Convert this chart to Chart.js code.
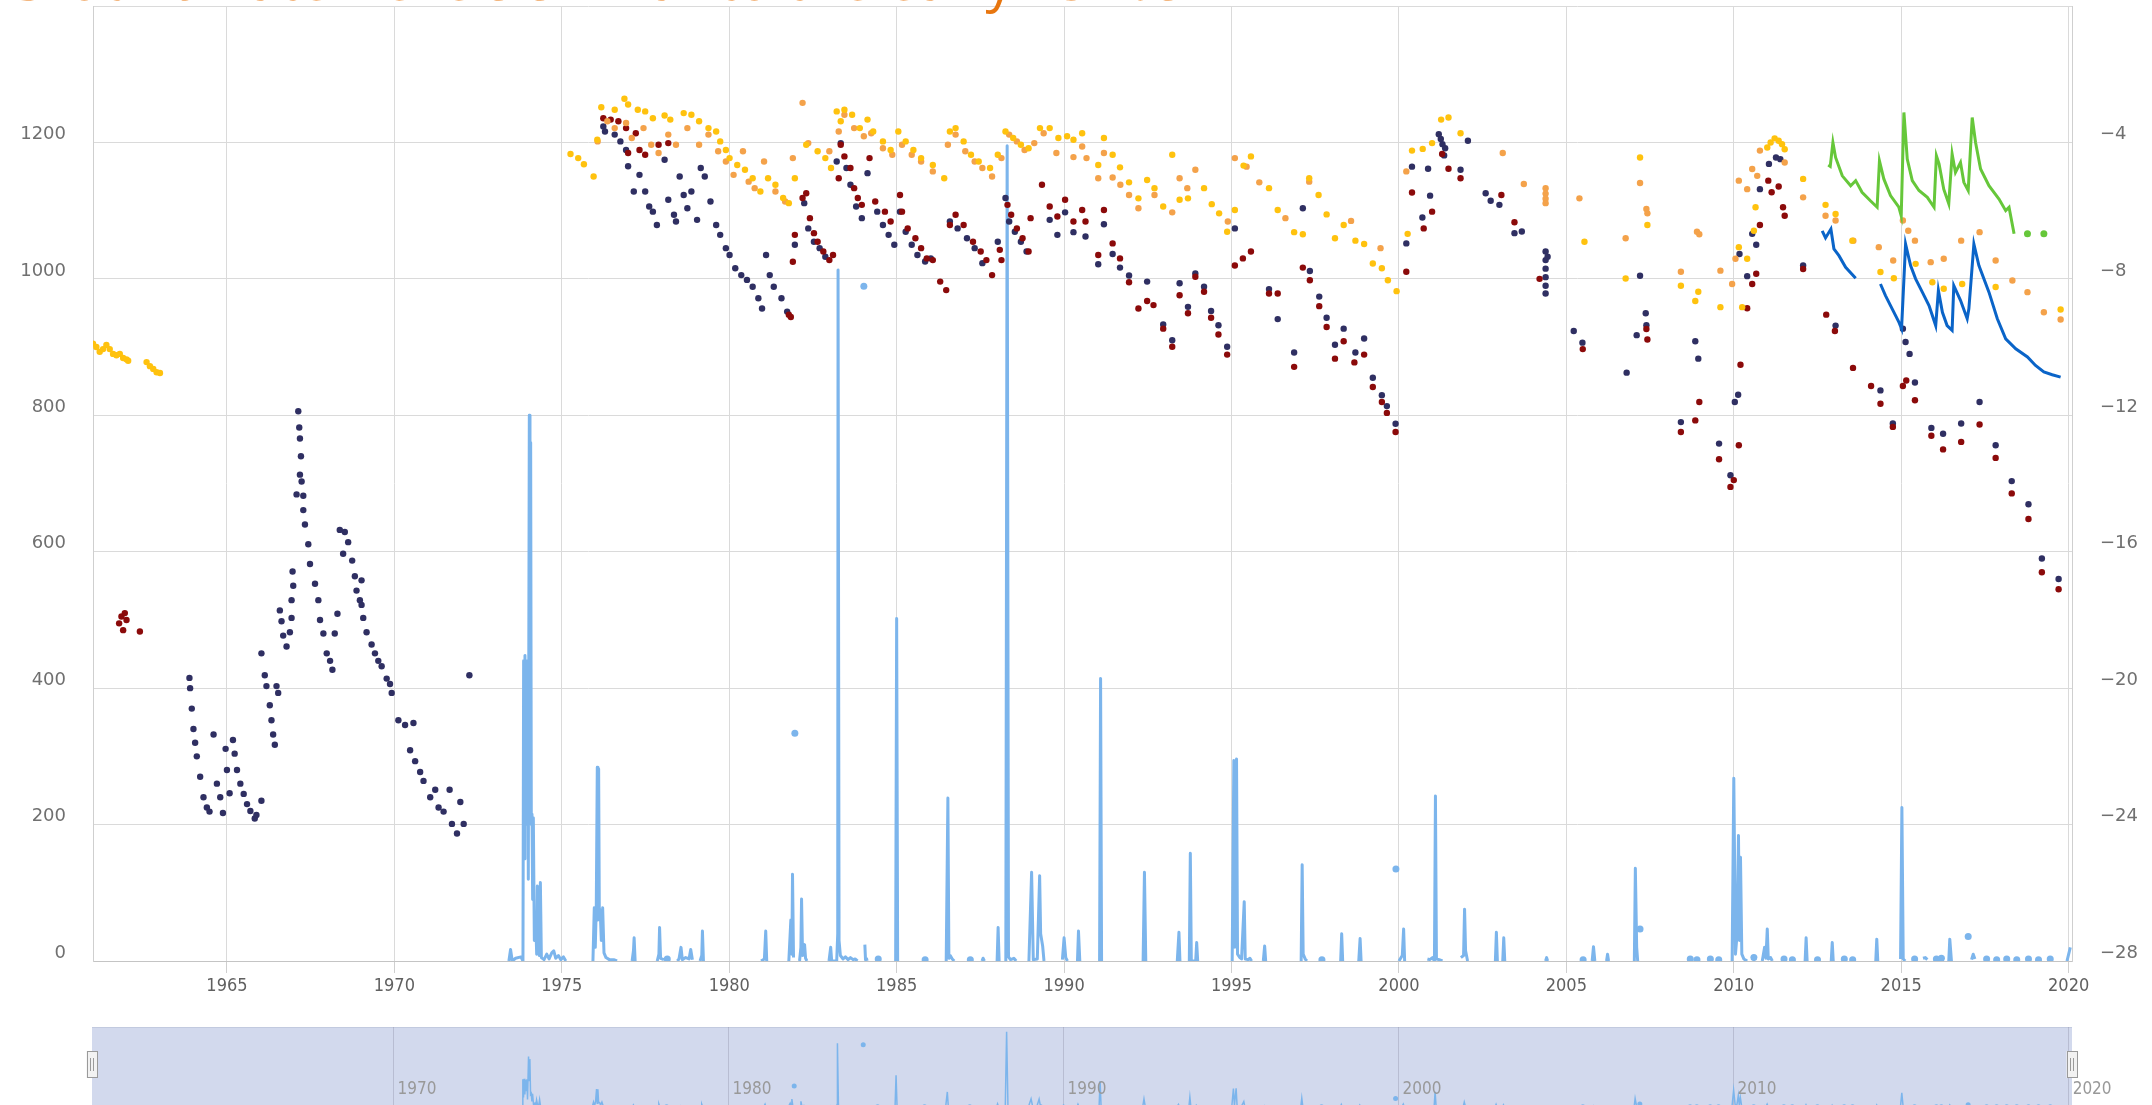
<!DOCTYPE html>
<html><head><meta charset="utf-8">
<script src="https://cdn.jsdelivr.net/npm/chart.js@4.4.1/dist/chart.umd.min.js"></script>
<style>
html,body{margin:0;padding:0;background:#fff;}
body{width:2152px;height:1105px;overflow:hidden;position:relative;}
#main{position:absolute;left:0;top:0;}
#nav{position:absolute;left:0;top:1020px;}
#title{position:absolute;left:4px;top:-50px;font-family:'Open Sans',sans-serif;font-size:56px;line-height:56px;color:#E8760F;white-space:nowrap;z-index:2;}
</style></head><body>
<canvas id="main" width="2152" height="1020"></canvas>
<canvas id="nav" width="2152" height="100"></canvas>
<div id="title">Groundwater levels similar to the early 1970s</div>
<script>
// ---------------- DATA ----------------
const xTickYears = [1965,1970,1975,1980,1985,1990,1995,2000,2005,2010,2015,2020];
const navTickYears = [1970,1980,1990,2000,2010,2020];
const leftTicks = [0,200,400,600,800,1000,1200,1400];
const rightTicks = [-28,-24,-20,-16,-12,-8,-4,0];

const yellowPoints = [
[1961.0,-9.90],[1961.1,-10.0],[1961.2,-10.14],[1961.3,-10.06],[1961.4,-9.94],[1961.5,-10.06],[1961.6,-10.2],[1961.7,-10.24],[1961.8,-10.2],[1961.9,-10.32],[1962.0,-10.36],[1962.05,-10.4],[1962.6,-10.44],[1962.7,-10.56],[1962.8,-10.64],[1962.9,-10.74],[1963.0,-10.76],
[1975.26,-4.34],[1975.49,-4.46],[1975.66,-4.64],[1975.95,-5.0],[1976.06,-3.92],[1976.18,-2.97],[1976.58,-3.04],[1976.87,-2.72],[1976.98,-2.89],[1977.27,-3.04],[1977.49,-3.09],[1977.72,-3.29],[1978.07,-3.21],[1978.24,-3.33],[1978.64,-3.14],[1978.87,-3.19],[1979.1,-3.38],[1979.38,-3.58],[1979.61,-3.68],[1979.73,-3.97],[1979.9,-4.22],[1980.01,-4.46],[1980.24,-4.66],[1980.47,-4.8],[1980.7,-5.05],[1980.93,-5.44],[1981.16,-5.05],[1981.38,-5.24],[1981.61,-5.63],[1981.78,-5.78],[1981.96,-5.05],[1982.3,-4.07],[1982.64,-4.26],[1982.87,-4.46],[1983.04,-4.75],[1983.21,-3.09],[1983.33,-3.38],[1983.44,-3.04],[1983.67,-3.19],[1983.9,-3.58],[1984.13,-3.33],[1984.3,-3.68],[1984.59,-3.97],[1984.82,-4.22],[1985.05,-3.68],[1985.27,-3.97],[1985.5,-4.22],[1985.73,-4.46],[1986.08,-4.66],[1986.42,-5.05],[1986.59,-3.68],[1986.76,-3.58],[1987.0,-3.97],[1987.22,-4.36],[1987.45,-4.56],[1987.79,-4.75],[1988.02,-4.36],[1988.25,-3.68],[1988.48,-3.87],[1988.71,-4.07],[1988.94,-4.17],[1989.28,-3.58],
[1989.57,-3.58],[1989.83,-3.87],[1990.09,-3.82],[1990.28,-3.92],[1990.54,-3.73],[1991.02,-4.66],[1991.19,-3.87],[1991.45,-4.36],[1991.67,-4.73],[1991.94,-5.17],[1992.22,-5.64],[1992.48,-5.1],[1992.7,-5.34],[1992.96,-5.88],[1993.23,-4.36],[1993.45,-5.68],[1993.7,-5.64],[1994.18,-5.34],[1994.41,-5.81],[1994.63,-6.08],[1994.87,-6.62],[1995.1,-5.98],[1995.36,-4.68],[1995.58,-4.41],[1996.12,-5.34],[1996.38,-5.98],[1996.87,-6.63],[1997.13,-6.69],[1997.32,-5.05],[1997.6,-5.54],[1997.84,-6.11],[1998.09,-6.81],[1998.35,-6.42],[1998.7,-6.88],[1998.96,-6.98],[1999.22,-7.55],[1999.49,-7.69],[1999.67,-8.04],[1999.93,-8.36],[2000.26,-6.68],[2000.39,-4.24],[2000.71,-4.19],[2000.99,-4.02],[2001.26,-3.33],[2001.48,-3.27],[2001.84,-3.73],[2005.54,-6.91],[2006.77,-7.99],[2007.2,-4.44],[2007.42,-6.42],[2008.42,-8.2],[2008.85,-8.65],[2008.94,-8.38],
[2009.6,-8.83],[2010.15,-7.07],[2010.25,-8.83],[2010.4,-7.41],[2010.6,-6.59],[2010.65,-5.9],[2011.0,-4.15],[2011.1,-4.0],[2011.22,-3.88],[2011.34,-3.95],[2011.44,-4.05],[2011.52,-4.2],[2012.07,-5.07],[2012.74,-5.83],[2013.04,-6.1],[2013.54,-6.88],[2014.38,-7.8],[2014.78,-7.98],[2015.43,-7.56],[2015.93,-8.1],[2016.27,-8.29],[2016.82,-8.15],[2017.82,-8.24],[2019.76,-8.9]
];

const orangePoints = [
[1976.07,-3.97],[1976.36,-3.38],[1976.58,-3.58],[1976.92,-3.43],[1977.09,-3.87],[1977.44,-3.58],[1977.67,-4.07],[1977.89,-4.31],[1978.18,-3.77],[1978.41,-4.07],[1978.75,-3.58],[1979.1,-4.07],[1979.38,-3.77],[1979.67,-4.26],[1979.9,-4.56],[1980.13,-4.95],[1980.41,-4.26],[1980.58,-5.15],[1980.76,-5.34],[1981.04,-4.56],[1981.38,-5.44],[1981.67,-5.73],[1981.9,-4.46],[1982.19,-2.84],[1982.36,-4.02],[1982.99,-4.26],[1983.27,-3.68],[1983.44,-3.19],[1983.73,-3.58],[1984.02,-3.82],[1984.24,-3.73],[1984.59,-4.17],[1984.87,-4.36],[1985.16,-4.07],[1985.45,-4.36],[1985.73,-4.56],[1986.08,-4.85],[1986.53,-4.07],[1986.76,-3.77],[1987.05,-4.26],[1987.33,-4.56],[1987.56,-4.75],[1987.85,-5.0],[1988.13,-4.46],[1988.36,-3.77],[1988.59,-3.97],[1988.82,-4.22],[1989.11,-4.02],[1989.39,-3.73],
[1989.77,-4.31],[1990.28,-4.43],[1990.54,-4.12],[1990.67,-4.46],[1991.02,-5.05],[1991.19,-4.31],[1991.45,-5.03],[1991.68,-5.24],[1991.94,-5.54],[1992.22,-5.93],[1992.7,-5.54],[1993.23,-6.05],[1993.45,-5.05],[1993.68,-5.34],[1993.92,-4.8],[1994.89,-6.32],[1995.1,-4.46],[1995.45,-4.71],[1995.83,-5.17],[1996.61,-6.22],[1997.32,-5.15],[1998.57,-6.3],[1999.45,-7.1],[2000.22,-4.85],[2003.1,-4.31],[2003.73,-5.22],[2004.38,-5.34],[2004.38,-5.5],[2004.38,-5.65],[2004.38,-5.78],[2005.39,-5.64],[2006.77,-6.81],[2007.2,-5.19],[2007.39,-5.95],[2007.42,-6.08],[2008.42,-7.79],[2008.9,-6.62],[2008.97,-6.69],
[2009.6,-7.76],[2009.95,-8.15],[2010.05,-7.41],[2010.15,-5.12],[2010.4,-5.37],[2010.55,-4.78],[2010.7,-4.98],[2010.78,-4.24],[2011.52,-4.59],[2012.07,-5.61],[2012.74,-6.15],[2013.04,-6.29],[2013.57,-6.88],[2014.33,-7.07],[2014.76,-7.46],[2015.05,-6.29],[2015.21,-6.59],[2015.41,-6.88],[2015.88,-7.51],[2016.27,-7.41],[2016.79,-6.88],[2017.34,-6.63],[2017.82,-7.46],[2018.32,-8.05],[2018.77,-8.39],[2019.26,-8.98],[2019.76,-9.19]
];

const navyPoints = [
[1963.88,-19.7],[1963.9,-20.0],[1963.95,-20.6],[1964.0,-21.2],[1964.05,-21.6],[1964.1,-22.0],[1964.2,-22.6],[1964.3,-23.2],[1964.4,-23.5],[1964.48,-23.62],
[1964.6,-21.36],[1964.7,-22.8],[1964.8,-23.2],[1964.88,-23.66],[1964.96,-21.78],[1965.0,-22.4],[1965.08,-23.08],[1965.18,-21.52],[1965.23,-21.92],[1965.3,-22.4],[1965.4,-22.8],[1965.5,-23.1],[1965.6,-23.4],[1965.7,-23.6],[1965.83,-23.82],[1965.88,-23.72],[1966.03,-23.3],
[1966.03,-18.98],[1966.13,-19.62],[1966.18,-19.94],[1966.28,-20.5],[1966.33,-20.94],[1966.38,-21.36],[1966.43,-21.66],[1966.48,-19.94],[1966.53,-20.14],
[1966.58,-17.72],[1966.63,-18.04],[1966.68,-18.46],[1966.78,-18.78],[1966.88,-18.36],[1966.93,-17.94],[1966.93,-17.42],[1966.98,-17.0],[1966.96,-16.58],
[1967.13,-11.88],[1967.16,-12.36],[1967.18,-12.68],[1967.21,-13.2],[1967.18,-13.74],[1967.23,-13.94],[1967.08,-14.32],[1967.28,-14.36],[1967.28,-14.78],[1967.33,-15.2],[1967.43,-15.78],[1967.48,-16.36],[1967.63,-16.94],[1967.73,-17.42],[1967.78,-18.0],[1967.88,-18.4],[1967.98,-18.98],[1968.08,-19.2],[1968.15,-19.46],[1968.22,-18.4],[1968.3,-17.82],
[1968.37,-15.36],[1968.52,-15.42],[1968.62,-15.72],[1968.47,-16.06],[1968.74,-16.26],[1968.82,-16.72],[1969.02,-16.84],[1968.87,-17.14],[1968.97,-17.42],[1969.02,-17.56],[1969.07,-17.94],[1969.17,-18.36],[1969.32,-18.72],[1969.42,-18.98],[1969.52,-19.2],[1969.62,-19.36],[1969.77,-19.72],[1969.87,-19.88],[1969.92,-20.14],
[1970.12,-20.94],[1970.32,-21.08],[1970.57,-21.02],[1970.47,-21.82],[1970.62,-22.14],[1970.77,-22.46],[1970.87,-22.72],[1971.07,-23.2],[1971.22,-22.98],[1971.32,-23.5],[1971.47,-23.62],[1971.65,-22.98],[1971.97,-23.34],[1971.72,-23.98],[1972.07,-23.98],[1971.87,-24.26],[1972.24,-19.62],
[1976.24,-3.53],[1976.29,-3.68],[1976.58,-3.77],[1976.75,-3.97],[1976.92,-4.22],[1976.98,-4.7],[1977.15,-5.44],[1977.32,-4.95],[1977.49,-5.44],[1977.61,-5.88],[1977.72,-6.03],[1977.84,-6.42],[1978.07,-4.51],[1978.18,-5.68],[1978.35,-6.12],[1978.41,-6.32],[1978.52,-5.0],[1978.64,-5.54],[1978.75,-5.93],[1978.87,-5.44],[1979.04,-6.27],[1979.15,-4.75],[1979.27,-5.0],[1979.44,-5.73],[1979.61,-6.42],[1979.73,-6.71],[1979.9,-7.1],[1980.01,-7.3],[1980.18,-7.69],[1980.36,-7.89],[1980.53,-8.03],[1980.7,-8.23],[1980.87,-8.57],[1980.98,-8.87],[1981.1,-7.3],[1981.21,-7.89],[1981.33,-8.23],[1981.56,-8.57],[1981.73,-8.96],[1981.96,-7.0],[1982.24,-5.78],[1982.36,-6.52],[1982.53,-6.91],[1982.7,-7.1],[1982.87,-7.35],[1983.21,-4.56],[1983.33,-4.02],[1983.5,-4.75],[1983.62,-5.24],[1983.79,-5.88],[1983.96,-6.22],[1984.13,-4.9],[1984.42,-6.03],[1984.59,-6.42],[1984.76,-6.71],[1984.93,-7.0],[1985.1,-6.03],[1985.27,-6.62],[1985.45,-7.0],[1985.62,-7.3],[1985.85,-7.49],[1986.02,-7.4],[1986.59,-6.32],[1986.82,-6.52],[1987.1,-6.81],[1987.33,-7.1],[1987.56,-7.54],[1988.02,-6.91],[1988.25,-5.63],[1988.36,-6.32],[1988.53,-6.62],[1988.71,-6.91],[1988.88,-7.2],
[1989.57,-6.27],[1989.8,-6.71],[1990.03,-6.05],[1990.28,-6.63],[1990.64,-6.76],[1991.02,-7.57],[1991.19,-6.4],[1991.45,-7.27],[1991.67,-7.67],[1991.94,-7.9],[1992.48,-8.08],[1992.96,-9.34],[1993.23,-9.8],[1993.45,-8.13],[1993.7,-8.82],[1993.92,-7.84],[1994.18,-8.23],[1994.39,-8.94],[1994.61,-9.36],[1994.87,-9.99],[1995.1,-6.52],[1996.12,-8.3],[1996.38,-9.18],[1996.87,-10.16],[1997.13,-5.93],[1997.34,-7.77],[1997.62,-8.52],[1997.84,-9.14],[1998.09,-9.93],[1998.35,-9.46],[1998.7,-10.16],[1998.96,-9.75],[1999.22,-10.9],[1999.49,-11.41],[1999.64,-11.73],[1999.9,-12.25],[2000.22,-6.96],[2000.39,-4.71],[2000.7,-6.2],[2000.87,-4.77],[2000.93,-5.56],[2001.19,-3.76],[2001.25,-3.9],[2001.3,-4.05],[2001.38,-4.17],[2001.35,-4.38],[2001.84,-4.8],[2002.06,-3.95],[2002.59,-5.49],[2002.74,-5.71],[2003.0,-5.83],[2003.45,-6.66],[2003.67,-6.61],[2004.38,-7.2],[2004.38,-7.45],[2004.38,-7.7],[2004.38,-7.95],[2004.38,-8.2],[2004.38,-8.43],[2004.44,-7.35],[2005.22,-9.53],[2005.48,-9.87],[2006.8,-10.75],[2007.1,-9.65],[2007.2,-7.91],[2007.37,-9.01],[2007.39,-9.36],[2008.42,-12.2],[2008.85,-9.83],[2008.94,-10.34],[2009.56,-12.83],
[2009.9,-13.76],[2010.03,-11.61],[2010.13,-11.4],[2010.17,-7.27],[2010.4,-7.92],[2010.55,-6.68],[2010.67,-7.0],[2010.78,-5.37],[2011.05,-4.63],[2011.26,-4.44],[2011.39,-4.49],[2012.07,-7.61],[2013.04,-9.37],[2014.38,-11.27],[2014.75,-12.24],[2015.05,-9.46],[2015.13,-9.85],[2015.25,-10.2],[2015.41,-11.04],[2015.9,-12.37],[2016.25,-12.54],[2016.79,-12.24],[2017.34,-11.61],[2017.82,-12.88],[2018.3,-13.93],[2018.8,-14.61],[2019.2,-16.2],[2019.7,-16.8]
];

const darkRedPoints = [
[1961.78,-18.1],[1961.85,-17.9],[1961.95,-17.8],[1962.0,-18.0],[1961.9,-18.3],[1962.4,-18.34],
[1976.24,-3.29],[1976.46,-3.33],[1976.69,-3.38],[1976.92,-3.58],[1976.98,-4.31],[1977.21,-3.73],[1977.32,-4.22],[1977.49,-4.36],[1977.89,-4.07],[1978.18,-4.02],[1981.78,-9.05],[1981.84,-9.12],[1981.9,-7.5],[1981.96,-6.71],[1982.19,-5.63],[1982.3,-5.49],[1982.41,-6.22],[1982.53,-6.66],[1982.64,-6.91],[1982.81,-7.2],[1982.99,-7.45],[1983.1,-7.3],[1983.27,-5.05],[1983.33,-4.07],[1983.44,-4.41],[1983.62,-4.75],[1983.73,-5.34],[1983.84,-5.63],[1983.96,-5.83],[1984.19,-4.46],[1984.36,-5.73],[1984.65,-6.03],[1984.82,-6.32],[1985.1,-5.54],[1985.16,-6.03],[1985.33,-6.52],[1985.56,-6.81],[1985.73,-7.1],[1985.9,-7.4],[1986.08,-7.45],[1986.3,-8.08],[1986.48,-8.33],[1986.59,-6.42],[1986.76,-6.12],[1987.0,-6.42],[1987.28,-6.91],[1987.51,-7.2],[1987.68,-7.45],[1987.85,-7.89],[1988.08,-7.15],[1988.13,-7.45],[1988.31,-5.83],[1988.42,-6.12],[1988.59,-6.52],[1988.76,-6.81],[1988.94,-7.2],[1989.0,-6.22],[1989.34,-5.24],
[1989.57,-5.88],[1989.8,-6.17],[1990.03,-5.68],[1990.28,-6.32],[1990.54,-5.98],[1990.64,-6.32],[1991.02,-7.3],[1991.19,-5.98],[1991.45,-6.96],[1991.67,-7.4],[1991.94,-8.1],[1992.22,-8.87],[1992.48,-8.65],[1992.67,-8.77],[1992.96,-9.46],[1993.23,-9.99],[1993.45,-8.48],[1993.7,-9.01],[1993.92,-7.94],[1994.18,-8.38],[1994.39,-9.14],[1994.61,-9.63],[1994.87,-10.22],[1995.1,-7.61],[1995.34,-7.4],[1995.58,-7.2],[1996.12,-8.43],[1996.38,-8.43],[1996.87,-10.58],[1997.13,-7.67],[1997.34,-8.04],[1997.62,-8.8],[1997.84,-9.41],[1998.09,-10.34],[1998.35,-9.83],[1998.67,-10.45],[1998.96,-10.22],[1999.22,-11.17],[1999.49,-11.61],[1999.64,-11.93],[1999.9,-12.49],[2000.22,-7.79],[2000.39,-5.47],[2000.74,-6.52],[2000.99,-6.03],[2001.29,-4.34],[2001.48,-4.77],[2001.84,-5.05],[2003.06,-5.54],[2003.45,-6.34],[2004.2,-8.0],[2005.49,-10.06],[2007.39,-9.47],[2007.42,-9.78],[2008.42,-12.49],[2008.85,-12.15],[2008.97,-11.61],[2009.56,-13.29],
[2009.9,-14.1],[2010.0,-13.9],[2010.15,-12.88],[2010.2,-10.52],[2010.4,-8.86],[2010.55,-8.15],[2010.67,-7.85],[2010.78,-6.42],[2011.03,-5.12],[2011.13,-5.46],[2011.34,-5.29],[2011.47,-5.9],[2011.52,-6.15],[2012.07,-7.71],[2012.76,-9.05],[2013.02,-9.53],[2013.56,-10.61],[2014.1,-11.14],[2014.38,-11.66],[2014.75,-12.34],[2015.05,-11.14],[2015.15,-10.98],[2015.41,-11.56],[2015.9,-12.6],[2016.25,-13.0],[2016.79,-12.78],[2017.34,-12.27],[2017.82,-13.25],[2018.3,-14.29],[2018.8,-15.04],[2019.2,-16.6],[2019.7,-17.1]
];

const greenLine = [
[2012.82,-4.66],[2012.88,-4.7],[2012.96,-4.0],[2013.04,-4.44],[2013.24,-4.98],[2013.49,-5.27],[2013.64,-5.12],[2013.83,-5.46],[2014.08,-5.71],[2014.28,-5.9],[2014.35,-4.54],[2014.48,-5.07],[2014.68,-5.56],[2014.93,-5.9],[2015.0,-6.15],[2015.08,-3.12],[2015.18,-4.49],[2015.33,-5.12],[2015.53,-5.41],[2015.78,-5.61],[2015.98,-5.9],[2016.05,-4.39],[2016.13,-4.63],[2016.27,-5.37],[2016.42,-5.8],[2016.52,-4.34],[2016.62,-4.88],[2016.77,-4.59],[2016.87,-5.17],[2017.0,-5.41],[2017.12,-3.27],[2017.22,-4.0],[2017.37,-4.78],[2017.62,-5.27],[2017.92,-5.66],[2018.12,-6.0],[2018.22,-5.9],[2018.37,-6.68],
null,[2018.77,-6.68],null,[2019.26,-6.68]
];

const blueLine = [
[2012.64,-6.59],[2012.74,-6.8],[2012.9,-6.54],[2012.99,-7.12],[2013.14,-7.32],[2013.34,-7.66],[2013.64,-7.98],
null,
[2014.38,-8.15],[2014.53,-8.49],[2014.73,-8.88],[2014.93,-9.27],[2015.01,-9.46],[2015.13,-6.98],[2015.28,-7.61],[2015.43,-8.0],[2015.63,-8.39],[2015.83,-8.78],[2016.03,-9.37],[2016.11,-8.34],[2016.23,-8.98],[2016.37,-9.37],[2016.52,-9.51],[2016.57,-8.2],[2016.77,-8.63],[2016.97,-9.17],[2017.02,-8.88],[2017.17,-6.98],[2017.32,-7.61],[2017.62,-8.39],[2017.87,-9.17],[2018.12,-9.76],[2018.42,-10.05],[2018.77,-10.29],[2019.01,-10.54],[2019.26,-10.73],[2019.51,-10.81],[2019.76,-10.88]
];

const rainSeries = [
[1973.42,0],[1973.47,17],[1973.52,0],[1973.62,4],[1973.78,6],[1973.84,0],[1973.86,440],[1973.88,150],[1973.9,448],[1973.92,200],[1973.94,430],[1973.96,260],[1973.98,440],[1974.0,120],[1974.03,800],[1974.05,420],[1974.07,760],[1974.09,200],[1974.11,215],[1974.13,90],[1974.15,210],[1974.18,30],[1974.22,60],[1974.25,10],[1974.27,110],[1974.3,34],[1974.33,8],[1974.36,115],[1974.39,5],[1974.47,2],[1974.55,10],[1974.62,3],[1974.7,12],[1974.76,15],[1974.82,4],[1974.9,8],[1974.97,2],[1975.05,6],[1975.12,0],
null,[1975.93,0],[1975.97,78],[1976.0,20],[1976.03,80],[1976.06,284],[1976.08,60],[1976.1,282],[1976.12,78],[1976.15,70],[1976.18,30],[1976.22,78],[1976.26,12],[1976.32,5],[1976.42,2],[1976.55,2],[1976.65,0],
null,[1977.1,0],[1977.14,15],[1977.16,34],[1977.19,0],
null,[1977.85,0],[1977.9,10],[1977.92,49],[1977.95,4],[1978.05,2],
null,[1978.15,3],
null,[1978.45,0],[1978.5,3],[1978.56,20],[1978.6,2],[1978.7,5],[1978.8,3],[1978.85,17],[1978.9,2],
null,[1979.13,0],[1979.18,8],[1979.2,44],[1979.23,0],
null,[1980.95,0],[1981.05,3],[1981.09,44],[1981.12,0],
null,[1981.78,0],[1981.84,60],[1981.87,10],[1981.89,127],[1981.92,5],
null,[1981.96,334],
null,[1982.1,0],[1982.14,20],[1982.16,91],[1982.19,8],[1982.25,24],[1982.28,4],[1982.32,0],
null,[1982.98,0],[1983.03,20],[1983.06,0],[1983.21,0],[1983.24,40],[1983.25,1013],[1983.28,30],[1983.32,8],[1983.4,3],[1983.47,6],[1983.55,2],[1983.62,5],[1983.7,2],[1983.76,3],[1983.83,0],
null,[1984.02,989],
null,[1984.05,24],[1984.07,2],[1984.15,3],
null,[1984.45,3],
null,[1984.97,0],[1985.0,502],[1985.03,0],
null,[1985.85,2],
null,[1986.48,0],[1986.53,239],[1986.56,4],[1986.6,8],[1986.66,3],[1986.72,0],
null,[1987.2,2],
null,[1987.55,0],[1987.58,4],[1987.62,0],
null,[1988.0,0],[1988.03,49],[1988.06,0],
null,[1988.26,0],[1988.3,1195],[1988.34,6],[1988.4,2],[1988.5,4],[1988.57,0],
null,[1988.95,0],[1989.03,130],[1989.08,2],[1989.2,3],[1989.27,125],[1989.3,40],[1989.36,22],[1989.4,0],
null,[1989.95,2],[1990.0,34],[1990.05,5],[1990.1,0],
null,[1990.4,0],[1990.43,44],[1990.47,0],
null,[1991.06,0],[1991.09,414],[1991.12,0],
null,[1992.36,0],[1992.4,130],[1992.44,0],
null,[1993.38,0],[1993.43,42],[1993.46,0],
null,[1993.74,0],[1993.77,158],[1993.8,0],[1993.93,0],[1993.96,27],[1993.99,0],
null,[1995.02,0],[1995.07,294],[1995.1,20],[1995.15,296],[1995.18,10],[1995.25,5],[1995.3,3],[1995.38,87],[1995.41,3],[1995.5,2],[1995.55,4],[1995.6,0],
null,[1995.95,0],[1995.99,22],[1996.02,0],
null,[1997.08,0],[1997.11,141],[1997.14,10],[1997.2,3],[1997.25,0],
null,[1997.7,2],
null,[1998.26,0],[1998.29,40],[1998.32,0],
null,[1998.8,0],[1998.84,33],[1998.87,0],
null,[1999.91,135],
null,[2000.0,0],[2000.05,4],[2000.1,8],[2000.14,47],[2000.17,0],
null,[2000.85,3],[2000.92,2],[2001.0,5],[2001.06,0],[2001.09,242],[2001.12,3],[2001.2,2],[2001.3,0],
null,[2001.85,5],[2001.93,8],[2001.96,76],[2001.99,15],[2002.05,0],
null,[2002.88,0],[2002.91,42],[2002.94,0],
null,[2003.1,0],[2003.13,34],[2003.16,0],
null,[2004.38,0],[2004.41,5],[2004.44,0],
null,[2005.5,2],
null,[2005.77,0],[2005.81,21],[2005.85,0],
null,[2006.2,0],[2006.23,10],[2006.26,0],
null,[2007.03,0],[2007.06,136],[2007.1,20],[2007.13,0],
null,[2007.2,47],
null,[2008.7,3],null,[2008.9,2],null,[2009.3,3],null,[2009.55,2],
null,[2009.95,0],[2010.0,268],[2010.05,10],[2010.1,40],[2010.14,184],[2010.17,30],[2010.2,152],[2010.24,10],[2010.3,3],[2010.4,0],
null,[2010.6,5],
null,[2010.85,0],[2010.92,20],[2010.96,4],[2011.0,47],[2011.03,3],[2011.1,5],[2011.15,0],
null,[2011.5,3],null,[2011.75,2],
null,[2012.13,0],[2012.16,34],[2012.19,0],
null,[2012.5,2],
null,[2012.91,0],[2012.94,27],[2012.97,0],
null,[2013.3,3],null,[2013.55,2],
null,[2014.24,0],[2014.27,32],[2014.3,0],
null,[2014.98,3],[2015.02,225],[2015.06,3],[2015.12,0],
null,[2015.4,3],
null,[2015.65,4],[2015.72,5],[2015.78,2],
null,[2016.05,3],null,[2016.2,4],
null,[2016.42,0],[2016.45,32],[2016.5,0],
null,[2017.0,36],
null,[2017.1,2],[2017.15,10],[2017.2,3],
null,[2017.55,3],null,[2017.85,2],null,[2018.15,3],null,[2018.45,2],null,[2018.8,3],null,[2019.1,2],null,[2019.45,3],
null,[2019.95,0],[2020.05,20]
];

// ---------------- HELPERS ----------------
function toXY(arr){
  const out=[]; let lastX=null;
  for(const p of arr){
    if(p===null){ out.push({x:lastX, y:null}); }
    else { out.push({x:p[0], y:p[1]}); lastX=p[0]; }
  }
  return out;
}
function isoRadius(r){
  return ctx => {
    const d = ctx.dataset.data, i = ctx.dataIndex;
    if(!d[i] || d[i].y===null) return 0;
    const prev = d[i-1], next = d[i+1];
    const iso = (!prev || prev.y===null) && (!next || next.y===null);
    return iso ? r : 0;
  };
}
function noPad(s){ s.paddingTop = 0; s.paddingBottom = 0; s.paddingLeft = 0; s.paddingRight = 0; }
const X_MIN = 1961.0, X_MAX = 2020.1;
const GRID = '#dadada';

// ---------------- MAIN CHART ----------------
new Chart(document.getElementById('main'), {
  type: 'scatter',
  data: { datasets: [
    { label:'Rainfall', data: toXY(rainSeries), yAxisID:'yL', showLine:true, spanGaps:false,
      borderColor:'#7cb5ec', backgroundColor:'#7cb5ec', borderWidth:3, borderJoinStyle:'round',
      pointRadius: isoRadius(3.5), pointBorderWidth:0, order: 10 },
    { label:'Navy', data: toXY(navyPoints), yAxisID:'yR', backgroundColor:'#2f2f62', pointRadius:3.2, pointBorderWidth:0, order: 6 },
    { label:'Dark red', data: toXY(darkRedPoints), yAxisID:'yR', backgroundColor:'#8b0a0a', pointRadius:3.2, pointBorderWidth:0, order: 5 },
    { label:'Orange', data: toXY(orangePoints), yAxisID:'yR', backgroundColor:'#f4a24a', pointRadius:3.2, pointBorderWidth:0, order: 4 },
    { label:'Yellow', data: toXY(yellowPoints), yAxisID:'yR', backgroundColor:'#ffc20e', pointRadius:3.2, pointBorderWidth:0, order: 3 },
    { label:'Green', data: toXY(greenLine), yAxisID:'yR', showLine:true, spanGaps:false, borderColor:'#66c73a', backgroundColor:'#66c73a', borderWidth:3, pointRadius: isoRadius(3.5), pointBorderWidth:0, order: 2 },
    { label:'Blue', data: toXY(blueLine), yAxisID:'yR', showLine:true, spanGaps:false, borderColor:'#0a64c8', backgroundColor:'#0a64c8', borderWidth:3, pointRadius: isoRadius(3.5), pointBorderWidth:0, order: 1 }
  ]},
  options: {
    responsive:false, animation:false, events:[],
    layout:{ padding:{ top:6, left:0, right:0, bottom:0 } },
    plugins:{ legend:{display:false}, tooltip:{enabled:false}, title:{display:false} },
    scales:{
      x:{ type:'linear', min:X_MIN, max:X_MAX,
        afterBuildTicks: s => { s.ticks = xTickYears.map(v => ({value:v})); },
        afterFit: s => { s.height = 59; noPad(s); },
        grid:{ color:GRID, lineWidth:1, drawTicks:true, tickLength:12, tickColor:'#cfcfcf' },
        border:{ display:true, color:'#c4c4c4', width:1 },
        ticks:{ font:{family:'DejaVu Sans Condensed', size:18}, color:'#606060', maxRotation:0, autoSkip:false, padding:3, callback: v => String(v) } },
      yL:{ type:'linear', position:'left', min:0, max:1400,
        afterBuildTicks: s => { s.ticks = leftTicks.map(v => ({value:v})); },
        afterFit: s => { s.width = 93; noPad(s); },
        grid:{ color:GRID, lineWidth:1, drawTicks:false },
        border:{ display:true, color:'#cfcfcf', width:1 },
        ticks:{ font:{family:'DejaVu Sans', size:18}, color:'#707070', padding:27, labelOffset:-8, autoSkip:false,
          callback: v => v===1400 ? '' : String(v) } },
      yR:{ type:'linear', position:'right', min:-28, max:0,
        afterBuildTicks: s => { s.ticks = rightTicks.map(v => ({value:v})); },
        afterFit: s => { s.width = 80; noPad(s); },
        grid:{ display:true, drawOnChartArea:false, drawTicks:false },
        border:{ display:true, color:'#cfcfcf', width:1 },
        ticks:{ font:{family:'DejaVu Sans', size:18}, color:'#707070', padding:28, labelOffset:-8, autoSkip:false,
          callback: v => v===0 ? '' : (v<0 ? '\u2212' : '') + Math.abs(v) } }
    }
  }
});

// ---------------- NAVIGATOR ----------------
const navPlugin = {
  id:'navDecor',
  beforeDraw(chart){
    const {ctx, chartArea:a} = chart;
    ctx.save();
    ctx.fillStyle = '#d2d9ed';
    ctx.fillRect(a.left, a.top, a.right-a.left, a.bottom-a.top+20);
    ctx.strokeStyle = '#c2cadf'; ctx.lineWidth = 1;
    ctx.beginPath(); ctx.moveTo(a.left, a.top+0.5); ctx.lineTo(a.right, a.top+0.5); ctx.stroke();
    ctx.restore();
  },
  afterDraw(chart){
    const {ctx, chartArea:a, scales} = chart;
    ctx.save();
    ctx.font = '17px "DejaVu Sans Condensed"';
    ctx.fillStyle = '#999999';
    ctx.textBaseline = 'middle'; ctx.textAlign = 'left';
    navTickYears.forEach(v => { ctx.fillText(String(v), scales.x.getPixelForValue(v)+4, 70); });
    [a.left, a.right].forEach(hx => {
      const w = 11, h = 27, y0 = 31;
      ctx.fillStyle = '#f2f2f2'; ctx.strokeStyle = '#9a9a9a'; ctx.lineWidth = 1;
      ctx.fillRect(hx - w/2, y0, w, h);
      ctx.strokeRect(Math.round(hx - w/2)+0.5, y0+0.5, w-1, h-1);
      ctx.beginPath();
      ctx.moveTo(Math.round(hx)-1.5, y0+7); ctx.lineTo(Math.round(hx)-1.5, y0+h-7);
      ctx.moveTo(Math.round(hx)+1.5, y0+7); ctx.lineTo(Math.round(hx)+1.5, y0+h-7);
      ctx.stroke();
    });
    ctx.restore();
  }
};
new Chart(document.getElementById('nav'), {
  type:'scatter',
  data:{ datasets:[{ data: toXY(rainSeries), showLine:true, spanGaps:false, borderColor:'#7cb5ec', backgroundColor:'#7cb5ec',
    borderWidth:1.5, pointRadius: isoRadius(2.5), pointBorderWidth:0 }] },
  options:{ responsive:false, animation:false, events:[],
    layout:{ padding:{ top:7, left:92, right:80, bottom:0 } },
    plugins:{ legend:{display:false}, tooltip:{enabled:false} },
    scales:{
      x:{ type:'linear', min:X_MIN, max:X_MAX,
        afterBuildTicks: s => { s.ticks = navTickYears.map(v => ({value:v})); },
        afterFit: s => { s.height = 13; noPad(s); },
        ticks:{ display:false }, grid:{ color:'rgba(120,120,140,0.28)', drawTicks:false }, border:{ display:false } },
      y:{ type:'linear', min:0, max:1270, display:false }
    }
  },
  plugins:[navPlugin]
});
</script>
</body></html>
